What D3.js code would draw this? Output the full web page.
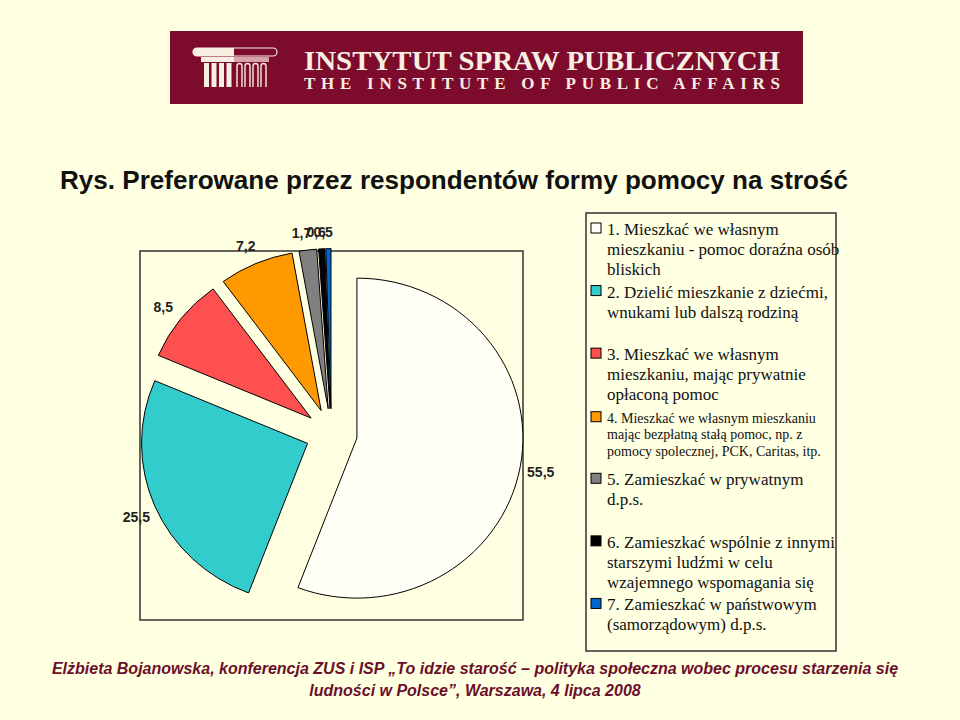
<!DOCTYPE html>
<html><head><meta charset="utf-8">
<script src="https://cdn.jsdelivr.net/npm/d3@7"></script>
<style>html,body{margin:0;background:#FFFFE1;} svg{display:block}</style>
</head><body><svg id="c" width="960" height="720"></svg>
<script>
// ---------- data ----------
const values = [55.5, 25.5, 8.5, 7.2, 1.7, 0.6, 0.5];
const colors = ["#FFFFF6", "#33CCCC", "#FF5050", "#FF9900", "#808080", "#000000", "#0066CC"];
const legendLines = [
  ["1. Mieszkać we własnym", "mieszkaniu - pomoc doraźna osób", "bliskich"],
  ["2. Dzielić mieszkanie z dziećmi,", "wnukami lub dalszą rodziną"],
  ["3. Mieszkać we własnym", "mieszkaniu, mając prywatnie", "opłaconą pomoc"],
  ["4. Mieszkać we własnym mieszkaniu", "mając bezpłatną stałą pomoc, np. z", "pomocy spolecznej, PCK, Caritas, itp."],
  ["5. Zamieszkać w prywatnym", "d.p.s."],
  ["6. Zamieszkać wspólnie z innymi", "starszymi ludźmi w celu", "wzajemnego wspomagania się"],
  ["7. Zamieszkać w państwowym", "(samorządowym) d.p.s."]
];
const smallEntry = [false, false, false, true, false, false, false];
const titleText = "Rys. Preferowane przez respondentów formy pomocy na strość";
const bannerLines = ["INSTYTUT SPRAW PUBLICZNYCH", "THE INSTITUTE OF PUBLIC AFFAIRS"];
const footerLines = [
  "Elżbieta Bojanowska, konferencja ZUS i ISP „To idzie starość – polityka społeczna wobec procesu starzenia się",
  "ludności w Polsce”, Warszawa, 4 lipca 2008"
];

// ---------- drawing ----------
const svg = d3.select("#c");
const SANS = "'Liberation Sans', Arial, sans-serif";
const SERIF = "'Liberation Serif', 'Times New Roman', serif";

svg.append("rect").attr("width", 960).attr("height", 720).attr("fill", "#FFFFE1");

// banner
const cream = "#F8EEE2", maroon = "#7D0B2C";
const ban = svg.append("g");
ban.append("rect").attr("x", 170).attr("y", 31).attr("width", 633).attr("height", 73).attr("fill", maroon);
// logo (column capital)
const logo = ban.append("g");
logo.append("rect").attr("x", 193).attr("y", 48).attr("width", 84).attr("height", 8).attr("rx", 4)
  .attr("fill", maroon).attr("stroke", cream).attr("stroke-width", 1.2);
logo.append("path").attr("d", "M197,48 H234 V56 H197 A4,4 0 0 1 197,48 Z").attr("fill", cream);
logo.append("rect").attr("x", 201).attr("y", 57).attr("width", 33).attr("height", 5).attr("fill", cream);
logo.append("rect").attr("x", 234).attr("y", 57).attr("width", 35).attr("height", 5).attr("fill", "#D9A3AE");
d3.range(4).forEach(i => logo.append("rect").attr("x", 204 + i * 7.5).attr("y", 63).attr("width", 5).attr("height", 24).attr("fill", cream));
d3.range(4).forEach(i => logo.append("path")
  .attr("d", `M${237 + i * 8},87 V66 A2.5,2.5 0 0 1 ${242 + i * 8},66 V87`)
  .attr("fill", "none").attr("stroke", cream).attr("stroke-width", 1.4));
ban.append("text").attr("x", 304).attr("y", 70).text(bannerLines[0])
  .attr("font-family", SERIF).attr("font-weight", "bold").attr("font-size", 28)
  .attr("fill", cream).attr("textLength", 476).attr("lengthAdjust", "spacingAndGlyphs");
ban.append("text").attr("x", 304).attr("y", 89).text(bannerLines[1])
  .attr("font-family", SERIF).attr("font-weight", "bold").attr("font-size", 17)
  .attr("fill", cream).attr("textLength", 476).attr("lengthAdjust", "spacing");

// title
svg.append("text").attr("x", 60).attr("y", 189).text(titleText)
  .attr("font-family", SANS).attr("font-weight", "bold").attr("font-size", 25).attr("fill", "#111")
  .attr("textLength", 788).attr("lengthAdjust", "spacingAndGlyphs");

// plot area frame
svg.append("rect").attr("x", 140).attr("y", 251).attr("width", 383).attr("height", 369)
  .attr("fill", "none").attr("stroke", "#333").attr("stroke-width", 1.5);

// pie
const cx = 331.4, cy = 433.6, R = 160, sx = 166 / 160, explode = 25;
const pie = d3.pie().sort(null).value(d => d).startAngle(0).endAngle(2 * Math.PI);
const arcs = pie(values);
const arc = d3.arc().innerRadius(0).outerRadius(R);
const pg = svg.append("g").attr("transform", `translate(${cx},${cy})`);
arcs.forEach((a, i) => {
  const mid = (a.startAngle + a.endAngle) / 2;
  const ex = explode * sx * Math.sin(mid), ey = -explode * Math.cos(mid);
  pg.append("g").attr("transform", `translate(${ex},${ey}) scale(${sx},1)`)
    .append("path").attr("d", arc(a)).attr("fill", colors[i])
    .attr("stroke", "#000").attr("stroke-width", 1).attr("vector-effect", "non-scaling-stroke")
    .attr("stroke-linejoin", "round");
});

// data labels
const fmt = d3.formatLocale({decimal: ",", thousands: " ", grouping: [3], currency: ["", ""]}).format(".1f");
arcs.forEach((a, i) => {
  const mid = (a.startAngle + a.endAngle) / 2 - (i >= 2 ? 0.025 : 0);
  const r = 201 + 12 * Math.abs(Math.sin(mid));
  svg.append("text")
    .attr("x", cx + r * Math.sin(mid)).attr("y", cy - r * Math.cos(mid))
    .attr("text-anchor", "middle").attr("dominant-baseline", "central")
    .attr("font-family", SANS).attr("font-weight", "bold").attr("font-size", 14).attr("fill", "#222")
    .text(fmt(values[i]));
});

// legend
const lg = svg.append("g");
lg.append("rect").attr("x", 586).attr("y", 213).attr("width", 250).attr("height", 438)
  .attr("fill", "#FFFFE1").attr("stroke", "#333").attr("stroke-width", 1.5);
const band = d3.scaleBand().domain(d3.range(values.length)).range([213, 651]);
legendLines.forEach((lines, i) => {
  const small = smallEntry[i];
  const base = band(i) + 22;
  const fs = small ? 14 : 17, lh = small ? 16.5 : 20;
  lg.append("rect").attr("x", 591).attr("y", base - (small ? 11 : 12)).attr("width", 10).attr("height", 10)
    .attr("fill", colors[i]).attr("stroke", "#000").attr("stroke-width", 1);
  const t = lg.append("text").attr("font-family", SERIF).attr("font-size", fs).attr("fill", "#111");
  lines.forEach((l, j) => t.append("tspan").attr("x", 607).attr("y", base + j * lh).text(l));
});

// footer
footerLines.forEach((l, j) => svg.append("text").attr("x", 475).attr("y", 674 + j * 22)
  .attr("text-anchor", "middle").attr("font-family", SANS).attr("font-weight", "bold")
  .attr("font-style", "italic").attr("font-size", 16).attr("fill", "#6B0F2A").text(l));
</script></body></html>
